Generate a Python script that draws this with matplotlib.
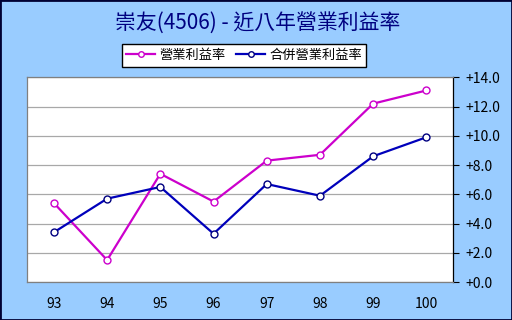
import matplotlib
matplotlib.use("Agg")
import matplotlib.pyplot as plt
from matplotlib.patches import Rectangle

plt.rcParams['font.family'] = ['Noto Sans CJK TC', 'DejaVu Sans']

years = ['93', '94', '95', '96', '97', '98', '99', '100']
op_margin = [5.4, 1.5, 7.4, 5.5, 8.3, 8.7, 12.2, 13.1]
cons_margin = [3.4, 5.7, 6.5, 3.3, 6.7, 5.9, 8.6, 9.9]
yticks = [0, 2, 4, 6, 8, 10, 12, 14]

bg = '#99CCFF'
fig = plt.figure(figsize=(5.12, 3.2), dpi=100, facecolor=bg)
ax = fig.add_axes([27.3/512, 38/320, (453-27.3)/512, (282-77.3)/320])
ax.set_facecolor('white')

x = list(range(len(years)))
l1, = ax.plot(x, op_margin, color='#CC00CC', lw=1.6, marker='o', ms=5,
              mfc='white', mec='#CC00CC', mew=1.0, label='營業利益率', zorder=3)
l2, = ax.plot(x, cons_margin, color='#0000BB', lw=1.6, marker='o', ms=5,
              mfc='white', mec='#000080', mew=1.0, label='合併營業利益率', zorder=3)

ax.set_xlim(-0.5, len(years) - 0.5)
ax.set_ylim(0, 14)
ax.set_xticks(x)
ax.set_xticklabels(years, fontsize=10)
ax.set_yticks(yticks)
ax.set_yticklabels(['+%.1f' % v for v in yticks], fontsize=10)
ax.yaxis.tick_right()
ax.tick_params(axis='x', length=0, pad=11)
ax.tick_params(axis='y', direction='out', length=4, width=0.8, pad=5, colors='black')
ax.grid(axis='y', color='#A8A8A8', lw=0.9)
ax.set_axisbelow(True)
for s in ['left', 'top', 'bottom']:
    ax.spines[s].set_color('#808080')
    ax.spines[s].set_linewidth(0.9)
ax.spines['right'].set_color('black')
ax.spines['right'].set_linewidth(0.9)

fig.text(258/512, 1 - 23/320, '崇友(4506) - 近八年營業利益率', ha='center', va='center',
         fontsize=15, color='#000080', fontweight='medium')

leg = fig.legend(handles=[l1, l2], loc='center', bbox_to_anchor=(244/512, 1 - 55.5/320),
                 ncol=2, fontsize=9.5, frameon=True, fancybox=False, edgecolor='black',
                 facecolor='white', framealpha=1, handlelength=2.2, handletextpad=0.3,
                 columnspacing=0.8, borderpad=0.35, markerscale=0.8)
leg.get_frame().set_linewidth(1.0)

fig.patches.append(Rectangle((0, 0), 1, 1, transform=fig.transFigure, fill=False,
                             edgecolor='#000033', lw=2))

fig.savefig('out.png', dpi=100, facecolor=bg)
